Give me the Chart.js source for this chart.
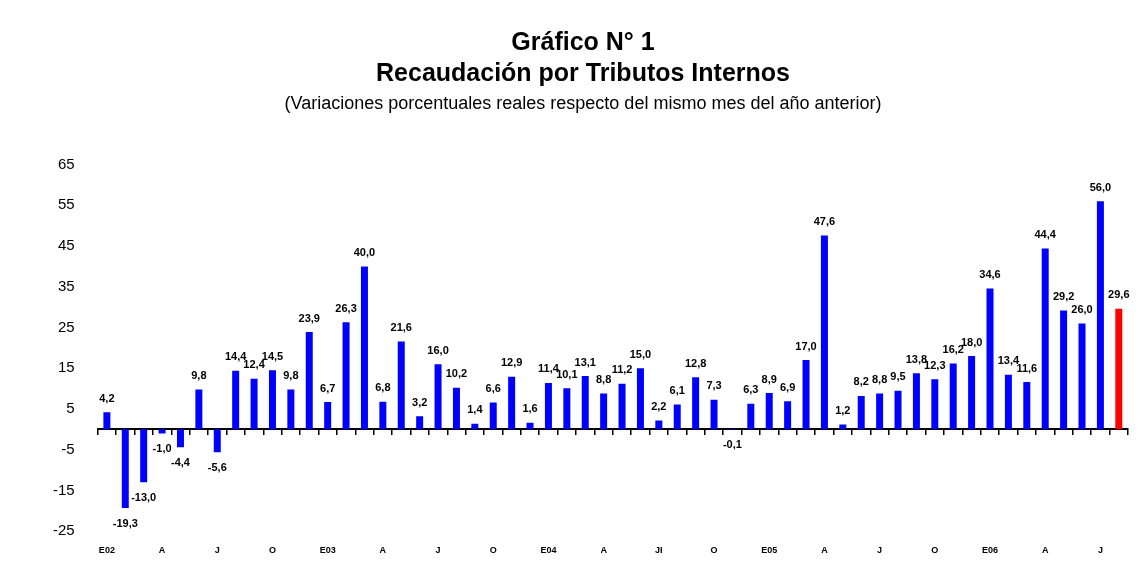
<!DOCTYPE html>
<html>
<head>
<meta charset="utf-8">
<script src="https://cdn.jsdelivr.net/npm/chart.js@4/dist/chart.umd.min.js"></script>
<style>
  body { margin: 0; background: #fff; }
  #wrap { width: 1145px; height: 575px; }
</style>
</head>
<body>
<div id="wrap"><canvas id="chart"></canvas></div>
<script>
// meses ene-2002 .. ago-2006
const months = ['E02','F','M','A','M','J','J','A','S','O','N','D',
  'E03','F','M','A','M','J','J','A','S','O','N','D',
  'E04','F','M','A','M','J','JI','A','S','O','N','D',
  'E05','F','M','A','M','J','J','A','S','O','N','D',
  'E06','F','M','A','M','J','J','A'];
const shownLabels = ['E02','A','J','O','E03','A','J','O','E04','A','JI','O','E05','A','J','O','E06','A','J'];

const variation = [
  4.2, -19.3, -13.0, -1.0, -4.4, 9.8, -5.6, 14.4, 12.4, 14.5, 9.8, 23.9,
  6.7, 26.3, 40.0, 6.8, 21.6, 3.2, 16.0, 10.2, 1.4, 6.6, 12.9, 1.6,
  11.4, 10.1, 13.1, 8.8, 11.2, 15.0, 2.2, 6.1, 12.8, 7.3, -0.1, 6.3,
  8.9, 6.9, 17.0, 47.6, 1.2, 8.2, 8.8, 9.5, 13.8, 12.3, 16.2, 18.0,
  34.6, 13.4, 11.6, 44.4, 29.2, 26.0, 56.0, 29.6
];

const yTicks = [-25, -15, -5, 5, 15, 25, 35, 45, 55, 65];

const barColors = variation.map((v, i) => i === variation.length - 1 ? '#ff0000' : '#0000ff');

const valueLabels = {
  id: 'valueLabels',
  afterDatasetsDraw(chart) {
    const ctx = chart.ctx;
    const meta = chart.getDatasetMeta(0);
    ctx.save();
    ctx.fillStyle = '#000';
    ctx.font = 'bold 11px "Liberation Sans", Arial, sans-serif';
    ctx.textAlign = 'center';
    meta.data.forEach((bar, i) => {
      const v = variation[i];
      const txt = v.toFixed(1).replace('.', ',');
      if (v >= 0) {
        ctx.textBaseline = 'bottom';
        ctx.fillText(txt, bar.x, bar.y - 8);
      } else {
        ctx.textBaseline = 'top';
        ctx.fillText(txt, bar.x, bar.y + 10);
      }
    });
    ctx.restore();
  }
};

new Chart(document.getElementById('chart'), {
  type: 'bar',
  data: {
    labels: months,
    datasets: [{
      data: variation,
      backgroundColor: barColors,
      barPercentage: 0.38,
      categoryPercentage: 1.0
    }]
  },
  options: {
    responsive: true,
    maintainAspectRatio: false,
    animation: false,
    layout: { padding: { left: 38, right: 17, top: 28, bottom: 13 } },
    plugins: {
      legend: { display: false },
      tooltip: { enabled: false },
      title: {
        display: true,
        text: ['Gráfico N° 1', 'Recaudación por Tributos Internos'],
        color: '#000',
        font: { family: '"Liberation Sans", Arial, sans-serif', size: 25, weight: 'bold', lineHeight: 1.24 },
        padding: { top: 0, bottom: 3 }
      },
      subtitle: {
        display: true,
        text: '(Variaciones porcentuales reales respecto del mismo mes del año anterior)',
        color: '#000',
        font: { family: '"Liberation Sans", Arial, sans-serif', size: 18, lineHeight: 1.2 },
        padding: { top: 0, bottom: 50 }
      }
    },
    scales: {
      x: {
        position: { y: 0 },
        grid: { display: true, drawOnChartArea: false, offset: true, color: '#000', tickLength: 5, lineWidth: 1.5 },
        border: { display: true, color: '#000', width: 2 },
        ticks: { display: false }
      },
      x2: {
        type: 'category',
        position: 'bottom',
        grid: { display: false },
        border: { display: false },
        ticks: {
          autoSkip: false,
          maxRotation: 0,
          color: '#000',
          padding: 6,
          font: { family: '"Liberation Sans", Arial, sans-serif', size: 9, weight: 'bold' },
          callback: function (val, i) { return i % 3 === 0 ? shownLabels[i / 3] : ''; }
        }
      },
      y: {
        min: -25,
        max: 65,
        afterBuildTicks: (axis) => { axis.ticks = yTicks.map(v => ({ value: v })); },
        grid: { display: false },
        border: { display: false },
        ticks: {
          color: '#000',
          padding: 15,
          font: { family: '"Liberation Sans", Arial, sans-serif', size: 15 }
        }
      }
    }
  },
  plugins: [valueLabels]
});
</script>
</body>
</html>
